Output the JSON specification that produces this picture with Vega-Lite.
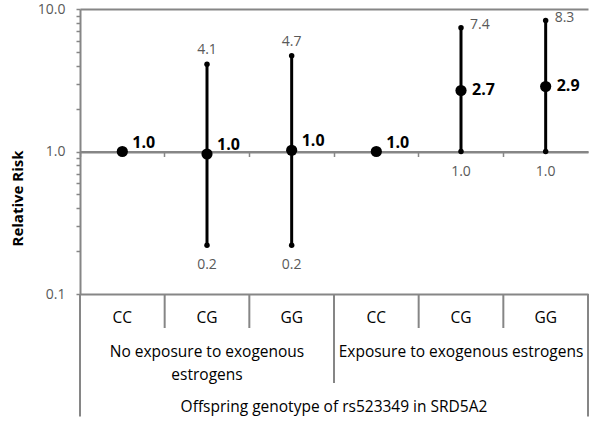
{
  "$schema": "https://vega.github.io/schema/vega-lite/v6.json",
  "padding": {"left": 10, "top": 2, "right": 5, "bottom": 0},
  "bounds": "flush",
  "spacing": 0,
  "config": {"view": {"stroke": null}, "font": "Open Sans"},
  "datasets": {
    "estimates": [
      {"key": "No|CC", "exposure": "No", "genotype": "CC", "rr": 1.0, "lo": null, "hi": null},
      {"key": "No|CG", "exposure": "No", "genotype": "CG", "rr": 0.96, "lo": 0.22, "hi": 4.1},
      {"key": "No|GG", "exposure": "No", "genotype": "GG", "rr": 1.02, "lo": 0.22, "hi": 4.7},
      {"key": "Exp|CC", "exposure": "Exp", "genotype": "CC", "rr": 1.0, "lo": null, "hi": null},
      {"key": "Exp|CG", "exposure": "Exp", "genotype": "CG", "rr": 2.68, "lo": 1.0, "hi": 7.4},
      {"key": "Exp|GG", "exposure": "Exp", "genotype": "GG", "rr": 2.86, "lo": 1.0, "hi": 8.3}
    ],
    "genotypes": [
      {"key": "No|CC", "label": "CC", "tier": 0.72},
      {"key": "No|CG", "label": "CG", "tier": 0.72},
      {"key": "No|GG", "label": "GG", "tier": 0.72},
      {"key": "Exp|CC", "label": "CC", "tier": 0.72},
      {"key": "Exp|CG", "label": "CG", "tier": 0.72},
      {"key": "Exp|GG", "label": "GG", "tier": 0.72}
    ],
    "groups": [
      {"center": "No|CG", "group": "No exposure to exogenous\nestrogens", "tier": 1.7},
      {"center": "Exp|CG", "group": "Exposure to exogenous estrogens", "tier": 1.7}
    ],
    "dividers": [
      {"key": "No|CG", "top": 0, "depth": 1},
      {"key": "No|GG", "top": 0, "depth": 1},
      {"key": "Exp|CG", "top": 0, "depth": 1},
      {"key": "Exp|GG", "top": 0, "depth": 1},
      {"key": "Exp|CC", "top": 0, "depth": 2.62},
      {"key": "No|CC", "top": 0, "depth": 3.6}
    ],
    "edges": [{"key": "Exp|GG", "top": 0, "depth": 3.6}],
    "titles": [{"key": "Exp|CC", "title": "Offspring genotype of rs523349 in SRD5A2", "tier": 3.32}]
  },
  "resolve": {"scale": {"x": "independent", "y": "independent"}},
  "vconcat": [
    {
      "width": 508,
      "height": 285,
      "data": {"name": "estimates"},
      "encoding": {
        "x": {
          "field": "key", "type": "nominal",
          "scale": {"domain": ["No|CC", "No|CG", "No|GG", "Exp|CC", "Exp|CG", "Exp|GG"], "paddingInner": 0, "paddingOuter": 0},
          "axis": {"orient": "bottom", "offset": -142.5, "labels": false, "title": null, "bandPosition": 0, "tickSize": 5, "tickColor": "#868686", "tickWidth": 1.5, "domainColor": "#868686", "domainWidth": 2, "grid": false}
        }
      },
      "layer": [
        {
          "mark": {"type": "rule", "color": "black", "strokeWidth": 3},
          "transform": [{"filter": "isValid(datum.lo)"}],
          "encoding": {
            "y": {
              "field": "lo", "type": "quantitative",
              "scale": {"type": "log", "domain": [0.1, 10]},
              "axis": {
                "values": [0.1, 0.2, 0.3, 0.4, 0.5, 0.6, 0.7, 0.8, 0.9, 1, 2, 3, 4, 5, 6, 7, 8, 9, 10],
                "labelExpr": "(datum.value == 0.1 || datum.value == 1 || datum.value == 10) ? format(datum.value, '.1f') : ''",
                "labelOverlap": false,
                "labelFont": "Open Sans", "labelFontSize": 14, "labelColor": "#595959", "labelPadding": 11,
                "tickSize": 4,
                "tickColor": "#868686", "tickWidth": 1.5,
                "domainColor": "#868686", "domainWidth": 2,
                "grid": true, "gridColor": "#868686", "gridWidth": 2,
                "gridOpacity": {"condition": {"test": "datum.value == 0.1 || datum.value == 1 || datum.value == 10", "value": 1}, "value": 0},
                "title": "Relative Risk", "titleFont": "Open Sans", "titleFontSize": 15, "titleFontWeight": "bold", "titleColor": "black",
                "titleX": -63, "titleY": 189, "titleBaseline": "middle", "titleAlign": "center", "titleAngle": 270
              }
            },
            "y2": {"field": "hi"}
          }
        },
        {
          "mark": {"type": "circle", "color": "black", "opacity": 1, "size": 30},
          "transform": [{"filter": "isValid(datum.lo)"}],
          "encoding": {"y": {"field": "lo", "type": "quantitative"}}
        },
        {
          "mark": {"type": "circle", "color": "black", "opacity": 1, "size": 30},
          "transform": [{"filter": "isValid(datum.hi)"}],
          "encoding": {"y": {"field": "hi", "type": "quantitative"}}
        },
        {
          "mark": {"type": "circle", "color": "black", "opacity": 1, "size": 125},
          "encoding": {"y": {"field": "rr", "type": "quantitative"}}
        },
        {
          "mark": {"type": "text", "align": "left", "baseline": "middle", "dx": 10, "dy": -9, "fontSize": 16, "fontWeight": "bold", "color": "black"},
          "transform": [{"filter": "!(datum.lo >= 0.99)"}],
          "encoding": {"y": {"field": "rr", "type": "quantitative"}, "text": {"field": "rr", "type": "quantitative", "format": ".1f"}}
        },
        {
          "mark": {"type": "text", "align": "left", "baseline": "middle", "dx": 11, "dy": 0, "fontSize": 16, "fontWeight": "bold", "color": "black"},
          "transform": [{"filter": "datum.lo >= 0.99"}],
          "encoding": {"y": {"field": "rr", "type": "quantitative"}, "text": {"field": "rr", "type": "quantitative", "format": ".1f"}}
        },
        {
          "mark": {"type": "text", "align": "center", "baseline": "middle", "dy": -14, "fontSize": 14, "color": "#595959"},
          "transform": [{"filter": "isValid(datum.hi) && datum.exposure == 'No'"}],
          "encoding": {"y": {"field": "hi", "type": "quantitative"}, "text": {"field": "hi", "type": "quantitative", "format": ".1f"}}
        },
        {
          "mark": {"type": "text", "align": "left", "baseline": "middle", "dx": 9, "dy": -3, "fontSize": 14, "color": "#595959"},
          "transform": [{"filter": "isValid(datum.hi) && datum.exposure == 'Exp'"}],
          "encoding": {"y": {"field": "hi", "type": "quantitative"}, "text": {"field": "hi", "type": "quantitative", "format": ".1f"}}
        },
        {
          "mark": {"type": "text", "align": "center", "baseline": "middle", "dy": 20, "fontSize": 14, "color": "#595959"},
          "transform": [{"filter": "isValid(datum.lo)"}],
          "encoding": {"y": {"field": "lo", "type": "quantitative"}, "text": {"field": "lo", "type": "quantitative", "format": ".1f"}}
        }
      ]
    },
    {
      "width": 508,
      "height": 136,
      "layer": [
        {
          "data": {"name": "dividers"},
          "mark": {"type": "rule", "color": "#868686", "strokeWidth": 2},
          "encoding": {
            "x": {"field": "key", "type": "nominal", "bandPosition": 0,
              "scale": {"domain": ["No|CC", "No|CG", "No|GG", "Exp|CC", "Exp|CG", "Exp|GG"], "paddingInner": 0, "paddingOuter": 0}, "axis": null},
            "y": {"field": "top", "type": "quantitative", "scale": {"domain": [0, 3.8], "reverse": true}, "axis": null},
            "y2": {"field": "depth"}
          }
        },
        {
          "data": {"name": "edges"},
          "mark": {"type": "rule", "color": "#868686", "strokeWidth": 2},
          "encoding": {
            "x": {"field": "key", "type": "nominal", "bandPosition": 1},
            "y": {"field": "top", "type": "quantitative"},
            "y2": {"field": "depth"}
          }
        },
        {
          "data": {"name": "genotypes"},
          "mark": {"type": "text", "align": "center", "baseline": "middle", "fontSize": 15.5, "color": "black"},
          "encoding": {
            "x": {"field": "key", "type": "nominal"},
            "y": {"field": "tier", "type": "quantitative"},
            "text": {"field": "label", "type": "nominal"}
          }
        },
        {
          "data": {"name": "groups"},
          "mark": {"type": "text", "align": "center", "baseline": "middle", "fontSize": 15.5, "color": "black", "lineBreak": "\n", "lineHeight": 23},
          "encoding": {
            "x": {"field": "center", "type": "nominal"},
            "y": {"field": "tier", "type": "quantitative"},
            "text": {"field": "group", "type": "nominal"}
          }
        },
        {
          "data": {"name": "titles"},
          "mark": {"type": "text", "align": "center", "baseline": "middle", "fontSize": 15.5, "color": "black"},
          "encoding": {
            "x": {"field": "key", "type": "nominal", "bandPosition": 0},
            "y": {"field": "tier", "type": "quantitative"},
            "text": {"field": "title", "type": "nominal"}
          }
        }
      ]
    }
  ]
}
